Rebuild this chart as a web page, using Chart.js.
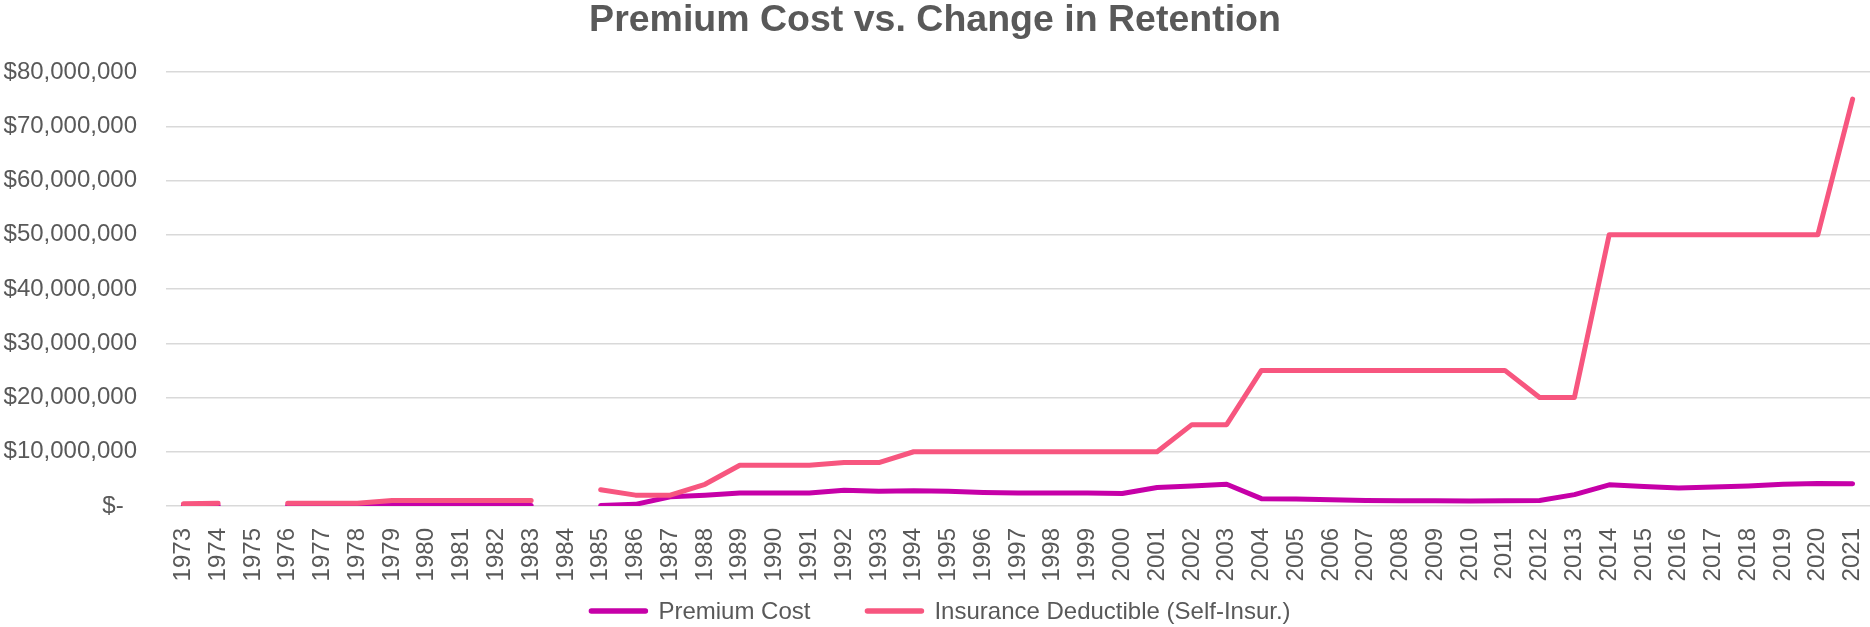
<!DOCTYPE html>
<html>
<head>
<meta charset="utf-8">
<script src="https://cdn.jsdelivr.net/npm/chart.js@4/dist/chart.umd.min.js"></script>
<style>
  html, body { margin: 0; padding: 0; background: #fff; }
  #wrap { width: 1870px; height: 627px; }
</style>
</head>
<body>
<div id="wrap"><canvas id="retentionChart"></canvas></div>
<script>
// data (dollars), null = no value that year
const years = []
for (let y = 1973; y <= 2021; y++) years.push(String(y))

const premiumCost = [
  50000, 50000, null,
  80000, 80000, 80000, 80000, 80000, 80000, 80000, 80000,
  null,
  100000, 300000, 1700000, 2000000, 2400000, 2400000, 2400000, 2900000, 2700000, 2800000,
  2700000, 2500000, 2400000, 2400000, 2400000, 2300000, 3400000, 3700000, 4000000, 1350000,
  1300000, 1150000, 1000000, 950000, 950000, 900000, 950000, 1000000, 2100000, 3900000,
  3600000, 3300000, 3500000, 3700000, 4000000, 4150000, 4100000
]

const insuranceDeductible = [
  400000, 500000, null,
  500000, 500000, 500000, 1000000, 1000000, 1000000, 1000000, 1000000,
  null,
  3000000, 2000000, 2000000, 4000000, 7500000, 7500000, 7500000, 8000000, 8000000, 10000000,
  10000000, 10000000, 10000000, 10000000, 10000000, 10000000, 10000000, 15000000, 15000000, 25000000,
  25000000, 25000000, 25000000, 25000000, 25000000, 25000000, 25000000, 20000000, 20000000, 50000000,
  50000000, 50000000, 50000000, 50000000, 50000000, 50000000, 75000000
]

const seriesNames = ["Premium Cost", "Insurance Deductible (Self-Insur.)"]
const seriesColors = ["#C600A8", "#F7567F"]

const textColor = "#595959"
const fontFamily = "'Liberation Sans', Arial, sans-serif"

// legend drawn below the axis labels, Excel style (wide line swatches)
const bottomLegend = {
  id: "bottomLegend",
  afterDraw(chart) {
    const ctx = chart.ctx
    const swatch = 54
    const gapText = 13
    const gapItem = 57
    const y = 611
    ctx.save()
    ctx.font = "24px " + fontFamily
    const widths = seriesNames.map(n => ctx.measureText(n).width)
    let total = 0
    widths.forEach((w, i) => { total += swatch + gapText + w + (i ? gapItem : 0) })
    let x = chart.width / 2 - total / 2 + 6
    seriesNames.forEach((name, i) => {
      ctx.strokeStyle = seriesColors[i]
      ctx.lineWidth = 5.5
      ctx.lineCap = "round"
      ctx.beginPath()
      ctx.moveTo(x, y)
      ctx.lineTo(x + swatch, y)
      ctx.stroke()
      ctx.fillStyle = textColor
      ctx.textBaseline = "middle"
      ctx.textAlign = "left"
      ctx.fillText(name, x + swatch + gapText, y + 1)
      x += swatch + gapText + widths[i] + gapItem
    })
    ctx.restore()
  }
}

function money(value) {
  if (value === 0) return "$-  "
  return "$" + value.toLocaleString("en-US")
}

const ctx = document.getElementById("retentionChart")

new Chart(ctx, {
  type: "line",
  data: {
    labels: years,
    datasets: [
      {
        label: seriesNames[0],
        data: premiumCost,
        borderColor: seriesColors[0],
        backgroundColor: seriesColors[0],
        order: 1
      },
      {
        label: seriesNames[1],
        data: insuranceDeductible,
        borderColor: seriesColors[1],
        backgroundColor: seriesColors[1],
        order: 0
      }
    ]
  },
  options: {
    responsive: true,
    maintainAspectRatio: false,
    animation: false,
    layout: { padding: 0 },
    elements: {
      line: { borderWidth: 5, borderCapStyle: "round", borderJoinStyle: "round", tension: 0 },
      point: { radius: 0, hoverRadius: 0 }
    },
    spanGaps: false,
    plugins: {
      legend: { display: false },
      tooltip: { enabled: false },
      title: {
        display: true,
        text: "Premium Cost vs. Change in Retention",
        color: textColor,
        font: { family: fontFamily, size: 37.5, weight: "bold", lineHeight: 1 },
        padding: { top: 2, bottom: 32.5 }
      }
    },
    scales: {
      x: {
        offset: true,
        grid: { display: false },
        border: { display: false },
        afterFit: scale => {
          scale.height = 121
          scale.paddingLeft = 0
          scale.paddingRight = 0
        },
        ticks: {
          autoSkip: false,
          maxRotation: 90,
          minRotation: 90,
          padding: 14,
          color: textColor,
          font: { family: fontFamily, size: 24 }
        }
      },
      y: {
        min: 0,
        max: 80000000,
        grid: { color: "#D9D9D9", lineWidth: 1.5, drawTicks: false },
        border: { display: false },
        afterFit: scale => { scale.width = 166 },
        ticks: {
          stepSize: 10000000,
          padding: 29,
          color: textColor,
          font: { family: fontFamily, size: 24 },
          callback: money
        }
      }
    }
  },
  plugins: [bottomLegend]
})
</script>
</body>
</html>
